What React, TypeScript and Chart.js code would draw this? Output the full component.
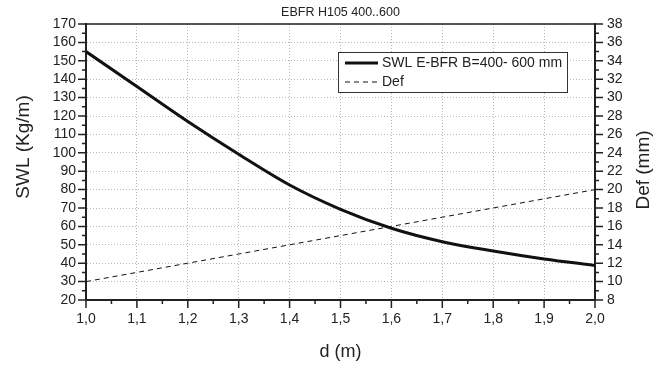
import React, { useEffect, useRef } from "react";
import { Chart, registerables } from "chart.js";

Chart.register(...registerables);

const dValues = [1.0, 1.1, 1.2, 1.3, 1.4, 1.5, 1.6, 1.7, 1.8, 1.9, 2.0];
const swlValues = [155, 136, 117, 99.2, 82.5, 69.3, 59, 51.7, 46.6, 42.3, 38.8];
const defValues = [10, 11, 12, 13, 14, 15, 16, 17, 18, 19, 20];

const chartTitle = "EBFR H105 400..600";
const swlLabel = "SWL E-BFR B=400- 600 mm";
const defLabel = "Def";
const xTitle = "d (m)";
const yLeftTitle = "SWL (Kg/m)";
const yRightTitle = "Def (mm)";

const xRange = [1.0, 2.0];
const yLeftRange = [20, 170];
const yRightRange = [8, 38];
const xSteps = [0.1, 0.05];
const yLeftSteps = [10, 5];
const yRightSteps = [2, 1];

const FONT = '"Liberation Sans", Arial, Helvetica, sans-serif';
const INK = "#222";

function drawAxisTicks(
  ctx: CanvasRenderingContext2D,
  scale: any,
  range: number[],
  steps: number[],
  side: "left" | "right" | "bottom",
  area: any
) {
  const [from, to] = range;
  const [major, minor] = steps;
  const n = Math.round((to - from) / minor);
  const every = Math.round(major / minor);
  ctx.save();
  ctx.strokeStyle = INK;
  ctx.lineWidth = 1.5;
  ctx.beginPath();
  for (let i = 0; i <= n; i++) {
    const v = from + i * minor;
    const len = i % every === 0 ? 8 : 4;
    const p = scale.getPixelForValue(v);
    if (side === "left") {
      ctx.moveTo(area.left, p);
      ctx.lineTo(area.left - len, p);
    } else if (side === "right") {
      ctx.moveTo(area.right, p);
      ctx.lineTo(area.right + len, p);
    } else {
      ctx.moveTo(p, area.bottom);
      ctx.lineTo(p, area.bottom + len);
    }
  }
  ctx.stroke();
  ctx.restore();
}

const decorPlugin = {
  id: "decor",
  afterDraw(chart: any) {
    const { ctx, chartArea: area, scales } = chart;
    ctx.save();
    // top frame
    ctx.strokeStyle = INK;
    ctx.lineWidth = 1.5;
    ctx.beginPath();
    ctx.moveTo(area.left, area.top);
    ctx.lineTo(area.right, area.top);
    ctx.stroke();

    drawAxisTicks(ctx, scales.y, yLeftRange, yLeftSteps, "left", area);
    drawAxisTicks(ctx, scales.y2, yRightRange, yRightSteps, "right", area);
    drawAxisTicks(ctx, scales.x, xRange, xSteps, "bottom", area);

    // title
    ctx.fillStyle = INK;
    ctx.font = `12.5px ${FONT}`;
    ctx.textAlign = "center";
    ctx.textBaseline = "middle";
    ctx.fillText(chartTitle, (area.left + area.right) / 2, 13);

    // y titles
    ctx.font = `19px ${FONT}`;
    ctx.save();
    ctx.translate(24, 147);
    ctx.rotate(-Math.PI / 2);
    ctx.fillText(yLeftTitle, 0, 0);
    ctx.restore();
    ctx.save();
    ctx.translate(644, 170);
    ctx.rotate(-Math.PI / 2);
    ctx.fillText(yRightTitle, 0, 0);
    ctx.restore();

    // legend
    const ds = chart.data.datasets;
    const bx = 338, by = 52, bw = 229, bh = 40;
    ctx.fillStyle = "#fff";
    ctx.fillRect(bx, by, bw, bh);
    ctx.strokeStyle = "#333";
    ctx.lineWidth = 1;
    ctx.strokeRect(bx + 0.5, by + 0.5, bw, bh);
    const rows = [63, 82];
    ds.forEach((d: any, i: number) => {
      const y = rows[i];
      ctx.save();
      ctx.strokeStyle = d.borderColor;
      ctx.lineWidth = d.borderWidth;
      ctx.setLineDash(d.borderDash || []);
      ctx.beginPath();
      ctx.moveTo(345, y);
      ctx.lineTo(378, y);
      ctx.stroke();
      ctx.restore();
      ctx.fillStyle = INK;
      ctx.font = `14px ${FONT}`;
      ctx.textAlign = "left";
      ctx.textBaseline = "middle";
      ctx.fillText(d.label, 382, y);
    });
    ctx.restore();
  },
};

export default function App() {
  const ref = useRef<HTMLCanvasElement | null>(null);

  useEffect(() => {
    document.body.style.margin = "0";
    const canvas = ref.current;
    if (!canvas) return;
    const gridColor = "#b8b8b8";
    const chart = new Chart(canvas, {
      type: "line",
      data: {
        datasets: [
          {
            label: swlLabel,
            data: dValues.map((x, i) => ({ x, y: swlValues[i] })),
            borderColor: "#111",
            borderWidth: 3,
            pointRadius: 0,
            tension: 0.4,
            cubicInterpolationMode: "monotone",
            yAxisID: "y",
            fill: false,
          },
          {
            label: defLabel,
            data: dValues.map((x, i) => ({ x, y: defValues[i] })),
            borderColor: "#111",
            borderWidth: 1,
            borderDash: [5, 4],
            pointRadius: 0,
            tension: 0,
            yAxisID: "y2",
            fill: false,
          },
        ],
      },
      options: {
        responsive: false,
        animation: false,
        layout: { padding: { top: 24, left: 0, right: 0, bottom: 0 } },
        plugins: {
          legend: { display: false },
          title: { display: false },
          tooltip: { enabled: false },
        },
        scales: {
          x: {
            type: "linear",
            position: "bottom",
            min: xRange[0],
            max: xRange[1],
            afterFit: (s: any) => {
              s.height = 68;
            },
            ticks: {
              stepSize: xSteps[0],
              autoSkip: false,
              maxRotation: 0,
              padding: 11,
              color: INK,
              font: { family: FONT, size: 14 },
              callback: (v: any) => Number(v).toFixed(1).replace(".", ","),
            },
            grid: { color: gridColor, lineWidth: 1, drawTicks: false },
            border: { display: true, color: INK, width: 2, dash: [1, 2] },
            title: {
              display: true,
              text: xTitle,
              color: INK,
              font: { family: FONT, size: 18 },
              padding: { top: 0, bottom: 5 },
            },
          },
          y: {
            type: "linear",
            position: "left",
            min: yLeftRange[0],
            max: yLeftRange[1],
            afterFit: (s: any) => {
              s.width = 86;
            },
            ticks: {
              stepSize: yLeftSteps[0],
              autoSkip: false,
              padding: 10,
              color: INK,
              font: { family: FONT, size: 14 },
            },
            grid: { color: gridColor, lineWidth: 1, drawTicks: false },
            border: { display: true, color: INK, width: 2, dash: [1, 2] },
          },
          y2: {
            type: "linear",
            position: "right",
            min: yRightRange[0],
            max: yRightRange[1],
            afterFit: (s: any) => {
              s.width = 66;
            },
            ticks: {
              stepSize: yRightSteps[0],
              autoSkip: false,
              padding: 12,
              color: INK,
              font: { family: FONT, size: 14 },
            },
            grid: { drawOnChartArea: false, drawTicks: false },
            border: { display: true, color: INK, width: 2 },
          },
        },
      },
      plugins: [decorPlugin],
    } as any);
    return () => chart.destroy();
  }, []);

  return (
    <div style={{ width: 661, height: 368 }}>
      <canvas ref={ref} width={661} height={368} />
    </div>
  );
}
